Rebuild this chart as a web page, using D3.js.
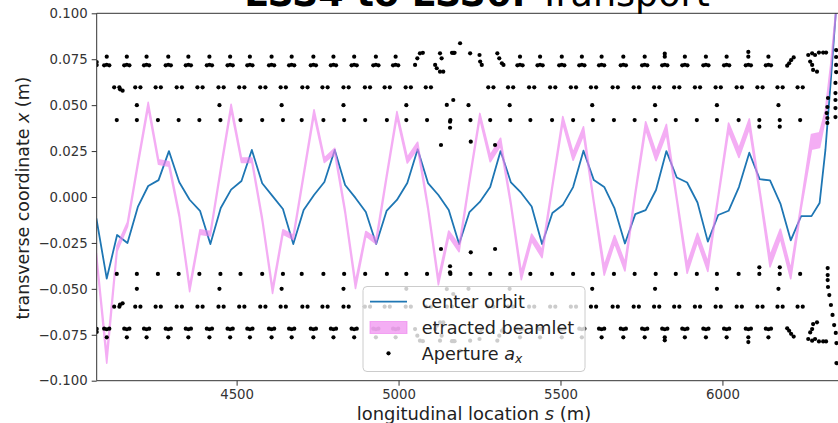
<!DOCTYPE html>
<html>
<head>
<meta charset="utf-8">
<script src="https://cdn.jsdelivr.net/npm/d3@7"></script>
<style>
  body { margin: 0; background: #fff; }
  svg { display: block; font-family: "DejaVu Sans", sans-serif; }
</style>
</head>
<body>
<svg id="chart" width="838" height="423"></svg>
<script>
// ---- data ----
const orbitS = [4067, 4099, 4131, 4163, 4195, 4227, 4259, 4291, 4323, 4355, 4387, 4419, 4451, 4483, 4515, 4547,
  4579, 4611, 4643, 4675, 4707, 4739, 4771, 4803, 4835, 4867, 4899, 4931, 4963, 4995, 5027, 5059,
  5091, 5123, 5155, 5187, 5219, 5251, 5283, 5315, 5347, 5379, 5411, 5443, 5475, 5507, 5539, 5571,
  5603, 5635, 5667, 5699, 5731, 5763, 5795, 5827, 5859, 5891, 5923, 5955, 5987, 6019, 6051, 6083,
  6115, 6147, 6179, 6211, 6243, 6275, 6300, 6318, 6334, 6350, 6366]

const orbitX = [-0.0116, -0.0444, -0.0207, -0.0250, -0.0054, 0.0060, 0.0092, 0.0250, 0.0080, -0.0015, -0.0075, -0.0256, -0.0060, 0.0040, 0.0087, 0.0256,
  0.0075, 0.0005, -0.0065, -0.0256, -0.0071, 0.0011, 0.0082, 0.0256, 0.0065, -0.0005, -0.0082, -0.0256, -0.0076, -0.0016, 0.0076, 0.0260,
  0.0076, 0.0011, -0.0071, -0.0256, -0.0082, -0.0027, 0.0054, 0.0250, 0.0079, 0.0022, -0.0052, -0.0256, -0.0087, -0.0044, 0.0054, 0.0252,
  0.0092, 0.0055, -0.0062, -0.0253, -0.0093, -0.0071, 0.0038, 0.0250, 0.0106, 0.0079, -0.0030, -0.0243, -0.0098, -0.0075, 0.0054, 0.0241,
  0.0097, 0.0090, -0.0036, -0.0236, -0.0104, -0.0104, -0.0033, 0.0256, 0.0620, 0.1000, 0.1400]

// extracted beamlet: centre and half width of the band
const beamMid = [-0.032, -0.088, -0.028, -0.015, 0.018, 0.050, 0.019, 0.018, -0.010, -0.050, -0.019, -0.020, 0.015, 0.049, 0.020, 0.020,
  -0.012, -0.051, -0.019, -0.022, 0.012, 0.046, 0.020, 0.025, -0.008, -0.048, -0.020, -0.024, 0.011, 0.045, 0.020, 0.028,
  -0.006, -0.046, -0.020, -0.028, 0.009, 0.044, 0.021, 0.030, -0.004, -0.043, -0.022, -0.031, 0.006, 0.042, 0.022, 0.036,
  -0.003, -0.040, -0.023, -0.038, 0.002, 0.039, 0.022, 0.037, -0.001, -0.039, -0.022, -0.038, 0.000, 0.038, 0.024, 0.040,
  0.003, -0.035, -0.020, -0.042, -0.005, 0.030, 0.031, 0.045, 0.070, 0.100, 0.140]
const beamHalf = [0.0015, 0.0025, 0.0015, 0.0012, 0.0012, 0.0015, 0.0012, 0.0012, 0.0012, 0.0015, 0.0012, 0.0012, 0.0012, 0.0015, 0.0012, 0.0012,
  0.0012, 0.0015, 0.0012, 0.0012, 0.0012, 0.0015, 0.0012, 0.0015, 0.0012, 0.0018, 0.0012, 0.0015, 0.0012, 0.0015, 0.0015, 0.0018,
  0.0012, 0.0018, 0.0015, 0.0018, 0.0012, 0.0015, 0.0018, 0.0020, 0.0012, 0.0020, 0.0018, 0.0020, 0.0012, 0.0018, 0.0020, 0.0022,
  0.0012, 0.0025, 0.0020, 0.0022, 0.0012, 0.0020, 0.0022, 0.0025, 0.0012, 0.0025, 0.0022, 0.0025, 0.0012, 0.0022, 0.0025, 0.0025,
  0.0015, 0.0030, 0.0025, 0.0025, 0.0015, 0.0040, 0.0040, 0.0020, 0.0015, 0.0015, 0.0015]

// aperture: element positions (s) for each kind of marker group
const triS = [4099, 4161, 4222, 4289, 4351, 4416, 4480, 4541, 4608, 4670, 4737, 4799, 4863, 4930, 4991,
  5375, 5437, 5504, 5566, 5627, 5694, 5760, 5822, 5884, 5949, 6013, 6080, 6142]
const triShape = [[0, 0.0764], [-8, 0.0717], [0, 0.0720], [8, 0.0717]]
const pairTopS = [4130, 4195, 4258, 4323, 4387, 4452, 4516, 4581, 4644, 4711, 4773, 4838, 4904, 4965, 5030, 5092,
  5285, 5346, 5411, 5476, 5540, 5602, 5669, 5734, 5797, 5859, 5923, 5987, 6052, 6116, 6178, 6240]
const pairBotS = pairTopS.concat([5157, 5221])
const pairShape = [[-8, 0.0597], [8, 0.0597]]
const singleS = [4130, 4192, 4257, 4321, 4385, 4450, 4512, 4579, 4643, 4701, 4768, 4832, 4897, 4964, 5024, 5088,
  5160, 5222, 5283, 5345, 5407, 5474, 5539, 5600, 5665, 5729, 5794, 5856, 5921, 5983, 6050, 6114, 6177, 6240]
const singleX = 0.0419
const extraS = [4192, 4447, 4639, 4830, 5024, 5216, 5343, 5598, 5792, 5983, 6173]
const extraX = 0.0500

// irregular aperture points (mirrored to the lower side)
const oddS = [4068, 4068, 4140, 4148, 5051, 5058, 5066, 5075, 5113, 5118, 5128, 5138, 5128, 5133,
  5165, 5169, 5173, 5190, 5221, 5250, 5252, 5257, 5305, 5311, 5319, 5324, 5149, 5169, 5159, 5159,
  5131, 5223, 5298, 5822, 6080, 6114, 6177, 6200, 6206, 6212, 6220,
  6265, 6277, 6286, 6298, 6311, 6320, 6271, 6277, 6280, 6292]
const oddX = [0.0735, 0.0718, 0.0586, 0.0579, 0.0719, 0.0755, 0.0782, 0.0785, 0.0719, 0.0701, 0.0682, 0.0682, 0.0782, 0.0755,
  0.0785, 0.0785, 0.0785, 0.0837, 0.0782, 0.0773, 0.0737, 0.0719, 0.0782, 0.0755, 0.0728, 0.0719, 0.0501, 0.0528, 0.0410, 0.0377,
  0.0283, 0.0301, 0.0283, 0.0780, 0.0790, 0.0383, 0.0383, 0.0715, 0.0728, 0.0745, 0.0760,
  0.0773, 0.0782, 0.0773, 0.0786, 0.0786, 0.0786, 0.0737, 0.0719, 0.0692, 0.0682]

// dots near the end of the section, not mirrored
const endS = [6351, 6351, 6351, 6351, 6349, 6349, 6349, 6349, 6349, 6326, 6324, 6322, 6324, 6324,
  6325, 6325, 6325, 6326, 6330, 6335, 6340, 6345, 6350, 6352, 6352]
const endX = [0.0800, 0.0762, 0.0719, 0.0680, 0.0621, 0.0566, 0.0528, 0.0484, 0.0435, 0.0539, 0.0490, 0.0457, 0.0430, 0.0403,
  -0.0387, -0.0425, -0.0452, -0.0490, -0.0534, -0.0588, -0.0642, -0.0697, -0.0740, -0.0795, -0.0904]

const xTicks = [4500, 5000, 5500, 6000]
const yTicks = [0.1, 0.075, 0.05, 0.025, 0, -0.025, -0.05, -0.075, -0.1]

// ---- layout ----
const padL = 96.7, padT = 13.3, padR = 851, padB = 380.7
const svg = d3.select("#chart")

const x = d3.scaleLinear().domain([4068, 6397]).range([padL, padR])
const y = d3.scaleLinear().domain([-0.1, 0.1]).range([padB, padT])

svg.append("defs").append("clipPath").attr("id", "clip")
  .append("rect").attr("x", padL).attr("y", padT).attr("width", padR - padL).attr("height", padB - padT)

const plot = svg.append("g").attr("clip-path", "url(#clip)")

// center orbit
plot.append("path")
  .datum(orbitS.map((s, i) => [s, orbitX[i]]))
  .attr("fill", "none")
  .attr("stroke", "#1f77b4")
  .attr("stroke-width", 1.8)
  .attr("stroke-linejoin", "round")
  .attr("d", d3.line().x(d => x(d[0])).y(d => y(d[1])))

// beamlet band (fill + same-colour edge, blended as one layer)
plot.append("g").attr("opacity", 0.65)
  .append("path")
  .datum(orbitS.map((s, i) => [s, beamMid[i] - beamHalf[i], beamMid[i] + beamHalf[i]]))
  .attr("fill", "#ee82ee")
  .attr("stroke", "#ee82ee")
  .attr("stroke-width", 1.6)
  .attr("stroke-linejoin", "round")
  .attr("d", d3.area().x(d => x(d[0])).y0(d => y(d[1])).y1(d => y(d[2])))

// aperture points
let ap = []
triS.forEach(s => triShape.forEach(p => { ap.push([s + p[0], p[1]]); ap.push([s + p[0], -p[1]]) }))
pairTopS.forEach(s => pairShape.forEach(p => ap.push([s + p[0], p[1]])))
pairBotS.forEach(s => pairShape.forEach(p => ap.push([s + p[0], -p[1]])))
singleS.forEach(s => { ap.push([s, singleX]); ap.push([s, -singleX]) })
extraS.forEach(s => { ap.push([s, extraX]); ap.push([s, -extraX]) })
oddS.forEach((s, i) => { ap.push([s, oddX[i]]); ap.push([s, -oddX[i]]) })
endS.forEach((s, i) => ap.push([s, endX[i]]))

plot.append("g").selectAll("circle")
  .data(ap)
  .enter()
  .append("circle")
  .attr("cx", d => x(d[0]))
  .attr("cy", d => y(d[1]))
  .attr("r", 2.1)
  .attr("fill", "#000")

// axes
svg.append("g").attr("transform", "translate(0," + padB + ")")
  .call(d3.axisBottom(x).tickValues(xTicks).tickFormat(d3.format("d")).tickSize(5).tickPadding(4))
svg.append("g").attr("transform", "translate(" + padL + ",0)")
  .call(d3.axisLeft(y).tickValues(yTicks).tickFormat(d3.format(".3f")).tickSize(5).tickPadding(4))
svg.selectAll(".domain").remove()
svg.selectAll(".tick line").attr("stroke", "#333")
svg.selectAll(".tick text").attr("fill", "#333").style("font-size", "13.3px").style("font-family", "DejaVu Sans")

svg.append("line").attr("x1", padL).attr("x2", padL).attr("y1", padT).attr("y2", padB).attr("stroke", "#333")
svg.append("line").attr("x1", padL).attr("x2", padR).attr("y1", padB).attr("y2", padB).attr("stroke", "#333")
svg.append("line").attr("x1", padL).attr("x2", padR).attr("y1", padT).attr("y2", padT).attr("stroke", "#333")

// labels
const xl = svg.append("text").attr("x", 474).attr("y", 420).attr("text-anchor", "middle")
  .style("font-size", "17.9px").attr("fill", "#222")
xl.append("tspan").text("longitudinal location ")
xl.append("tspan").style("font-style", "italic").text("s")
xl.append("tspan").text(" (m)")

const yl = svg.append("text").attr("transform", "translate(29,198) rotate(-90)").attr("text-anchor", "middle")
  .style("font-size", "17.4px").attr("fill", "#222")
yl.append("tspan").text("transverse coordinate ")
yl.append("tspan").style("font-style", "italic").text("x")
yl.append("tspan").text(" (m)")

const title = svg.append("text").attr("x", 477).attr("y", 6).attr("text-anchor", "middle")
  .style("font-size", "36.5px").attr("fill", "#000")
title.append("tspan").style("font-weight", "bold").text("LSS4 to LSS6: ")
title.append("tspan").text("Transport")

// legend
const lg = svg.append("g")
lg.append("rect").attr("x", 363).attr("y", 286.5).attr("width", 222).attr("height", 85).attr("rx", 4)
  .attr("fill", "#fff").attr("fill-opacity", 0.8).attr("stroke", "#ccc")
lg.append("line").attr("x1", 370).attr("x2", 407).attr("y1", 301.7).attr("y2", 301.7)
  .attr("stroke", "#1f77b4").attr("stroke-width", 1.8)
lg.append("rect").attr("x", 370).attr("y", 321.5).attr("width", 37).attr("height", 12)
  .attr("fill", "#ee82ee").attr("fill-opacity", 0.65).attr("stroke", "#ee82ee").attr("stroke-opacity", 0.65)
lg.append("circle").attr("cx", 388.5).attr("cy", 353.3).attr("r", 2.1).attr("fill", "#000")
const lt = [["center orbit", 308], ["etracted beamlet", 334]]
lt.forEach(t => lg.append("text").attr("x", 421.7).attr("y", t[1]).style("font-size", "17.6px").attr("fill", "#222").text(t[0]))
const ax = lg.append("text").attr("x", 421.7).attr("y", 360).style("font-size", "17.6px").attr("fill", "#222")
ax.append("tspan").text("Aperture ")
ax.append("tspan").style("font-style", "italic").text("a")
ax.append("tspan").style("font-style", "italic").style("font-size", "12.3px").attr("dy", 3).text("x")
</script>
</body>
</html>
